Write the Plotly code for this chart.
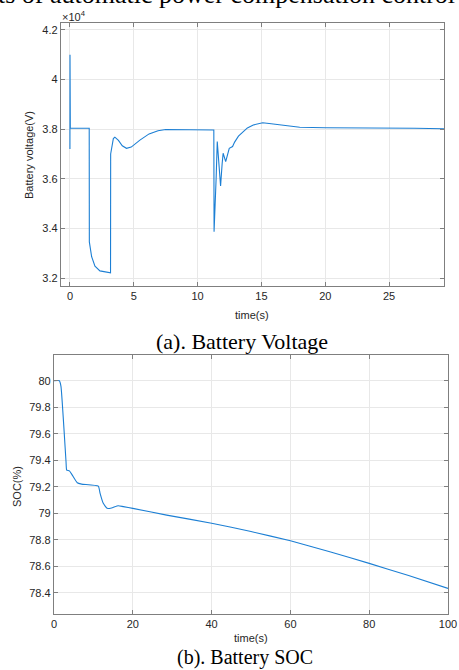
import plotly.graph_objects as go

# ---- Battery voltage (x 10^4 V) ----
t_volt = [0, 0.005, 0.03, 1.51, 1.52, 1.7, 1.96, 2.35, 2.8, 3.18, 3.19, 3.3, 3.4, 3.52,
          3.8, 4.1, 4.43, 4.8, 5.48, 6.2, 6.9, 7.5, 9.0, 11.27, 11.29, 11.35, 11.45,
          11.54, 11.65, 11.8, 11.92, 12.0, 12.2, 12.35, 12.48, 12.74, 12.9, 13.2, 13.57,
          13.9, 14.36, 14.8, 15.1, 15.6, 16.2, 16.7, 17.4, 18.0, 20.0, 22.0, 25.0, 27.0, 29.3]
volt = [3.72, 4.10, 3.804, 3.804, 3.346, 3.286, 3.248, 3.229, 3.223, 3.221, 3.70, 3.745, 3.762, 3.768,
        3.755, 3.733, 3.723, 3.728, 3.756, 3.781, 3.794, 3.799, 3.799, 3.797, 3.387, 3.51, 3.60,
        3.75, 3.66, 3.571, 3.66, 3.703, 3.669, 3.70, 3.723, 3.730, 3.748, 3.772, 3.79,
        3.805, 3.817, 3.823, 3.826, 3.823, 3.819, 3.816, 3.811, 3.808, 3.806, 3.806, 3.805, 3.804, 3.802]

# ---- Battery SOC (%) ----
t_soc = [0, 1.36, 1.78, 3.05, 3.22, 3.9, 4.6, 5.9, 7.0, 11.25, 11.7, 12.5, 13.5, 14.6,
         16.3, 17.6, 20, 28.6, 40, 50, 60, 70, 80, 90, 100]
soc = [80.0, 80.0, 79.955, 79.39, 79.326, 79.32, 79.29, 79.23, 79.22, 79.205, 79.15, 79.075,
       79.037, 79.04, 79.057, 79.05, 79.037, 78.986, 78.925, 78.862, 78.792, 78.71, 78.622, 78.53, 78.433]

volt_ticks = [3.2, 3.4, 3.6, 3.8, 4.0, 4.2]
volt_ticktext = ["3.2", "3.4", "3.6", "3.8", "4", "4.2"]
tvolt_ticks = [0, 5, 10, 15, 20, 25]
soc_ticks = [78.4, 78.6, 78.8, 79.0, 79.2, 79.4, 79.6, 79.8, 80.0]
soc_ticktext = ["78.4", "78.6", "78.8", "79", "79.2", "79.4", "79.6", "79.8", "80"]
tsoc_ticks = [0, 20, 40, 60, 80, 100]

W, H = 459, 670
LINE = "#1c7fd4"
TXT = "#262626"
AX = "#7f7f7f"
GRID = "#e8e8e8"
SANS = "Liberation Sans, Arial, sans-serif"
SERIF = "Liberation Serif, Times New Roman, serif"

def px_x(x):
    return x / W

def px_y(y):
    return 1 - y / H

fig = go.Figure()
fig.add_trace(go.Scatter(x=t_volt, y=volt, mode="lines", line=dict(color=LINE, width=1.1),
                         xaxis="x", yaxis="y", showlegend=False))
fig.add_trace(go.Scatter(x=t_soc, y=soc, mode="lines", line=dict(color=LINE, width=1.1, shape="spline", smoothing=0.4),
                         xaxis="x2", yaxis="y2", showlegend=False))

axis_common = dict(showline=True, linecolor=AX, linewidth=1.3, mirror="ticks",
                   ticks="inside", ticklen=4, tickcolor=AX, showgrid=True, gridcolor=GRID,
                   gridwidth=1, zeroline=False, tickfont=dict(family=SANS, size=11, color=TXT),
                   automargin=False)

fig.update_layout(
    width=W, height=H, margin=dict(l=0, r=0, t=0, b=0),
    paper_bgcolor="white", plot_bgcolor="white",
    xaxis=dict(domain=[px_x(61), px_x(444)], range=[-0.7, 29.3], tickvals=tvolt_ticks,
               anchor="y", **axis_common),
    yaxis=dict(domain=[px_y(286), px_y(23)], range=[3.168, 4.228], tickvals=volt_ticks,
               ticktext=volt_ticktext, anchor="x", **axis_common),
    xaxis2=dict(domain=[px_x(54), px_x(448)], range=[0, 100], tickvals=tsoc_ticks,
                anchor="y2", **axis_common),
    yaxis2=dict(domain=[px_y(614), px_y(355)], range=[78.24, 80.194], tickvals=soc_ticks,
                ticktext=soc_ticktext, anchor="x2", **axis_common),
)

ann = [
    dict(text="ts of automatic power compensation control", x=px_x(226), y=px_y(10),
         xanchor="center", yanchor="bottom", font=dict(family=SERIF, size=26, color="black")),
    dict(text="×10<sup>4</sup>", x=px_x(61), y=px_y(16), xanchor="left", yanchor="middle",
         font=dict(family=SANS, size=11, color=TXT)),
    dict(text="Battery voltage(V)", x=px_x(29), y=px_y(155), xanchor="center", yanchor="middle",
         textangle=-90, font=dict(family=SANS, size=11, color=TXT)),
    dict(text="time(s)", x=px_x(252), y=px_y(315), xanchor="center", yanchor="middle",
         font=dict(family=SANS, size=11, color=TXT)),
    dict(text="(a). Battery Voltage", x=px_x(242), y=px_y(341), xanchor="center", yanchor="middle",
         font=dict(family=SERIF, size=22, color="black")),
    dict(text="SOC(%)", x=px_x(17), y=px_y(487), xanchor="center", yanchor="middle",
         textangle=-90, font=dict(family=SANS, size=11, color=TXT)),
    dict(text="time(s)", x=px_x(251), y=px_y(638), xanchor="center", yanchor="middle",
         font=dict(family=SANS, size=11, color=TXT)),
    dict(text="(b). Battery SOC", x=px_x(245), y=px_y(657), xanchor="center", yanchor="middle",
         font=dict(family=SERIF, size=20, color="black")),
]
for a in ann:
    a.update(xref="paper", yref="paper", showarrow=False, borderpad=0)
fig.update_layout(annotations=ann)

fig.write_html("out.html", config={"displayModeBar": False},
               post_script="document.body.style.margin='0';document.body.style.padding='0';"
                           "document.body.style.overflow='hidden';")
